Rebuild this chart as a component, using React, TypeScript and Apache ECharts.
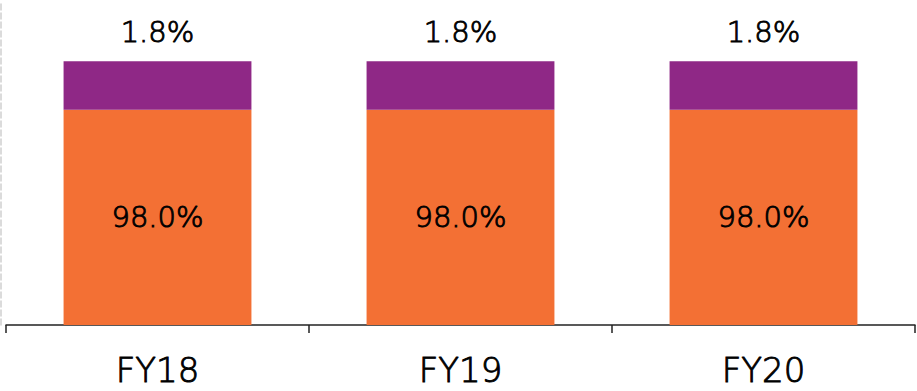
import React, { useEffect, useRef } from "react";
import * as echarts from "echarts";

const categories = ["FY18", "FY19", "FY20"];
const mainShare = [98.0, 98.0, 98.0];
const otherShare = [1.8, 1.8, 1.8];

const FONT = "'DejaVu Sans ExtraLight', 'DejaVu Sans', sans-serif";

export default function App() {
  const ref = useRef<HTMLDivElement>(null);
  useEffect(() => {
    document.body.style.margin = "0";
    const chart = echarts.init(ref.current!, null, { renderer: "svg" });
    const txt = {
      color: "#000",
      fontFamily: FONT,
      fontWeight: 200,
      textBorderColor: "#000",
      textBorderWidth: 0.9,
    };
    chart.setOption({
      animation: false,
      textStyle: { fontFamily: FONT },
      grid: { left: 6, right: 2, top: 2, bottom: 66 },
      xAxis: {
        type: "category",
        data: categories,
        axisLine: { lineStyle: { color: "#222", width: 1.5 } },
        axisTick: { show: true, length: 8, lineStyle: { color: "#222", width: 1.5 } },
        axisLabel: { ...txt, fontSize: 34, margin: 28 },
      },
      yAxis: {
        type: "value",
        min: 90,
        max: 102,
        offset: 5,
        axisLine: { show: true, lineStyle: { color: "#d0d0d0", type: "dashed", width: 1.5 } },
        axisTick: { show: false },
        axisLabel: { show: false },
        splitLine: { show: false },
      },
      series: [
        {
          type: "bar",
          stack: "s",
          data: mainShare,
          barWidth: "62%",
          itemStyle: { color: "#F37034" },
          label: {
            show: true,
            position: "inside",
            ...txt,
            fontSize: 29,
            formatter: (p: any) => p.value.toFixed(1) + "%",
          },
        },
        {
          type: "bar",
          stack: "s",
          data: otherShare,
          barWidth: "62%",
          itemStyle: { color: "#8F2886" },
          label: {
            show: true,
            position: "top",
            distance: 15,
            ...txt,
            fontSize: 29,
            formatter: (p: any) => p.value.toFixed(1) + "%",
          },
        },
      ],
    });
    return () => chart.dispose();
  }, []);
  return <div ref={ref} style={{ width: 917, height: 391 }} />;
}
